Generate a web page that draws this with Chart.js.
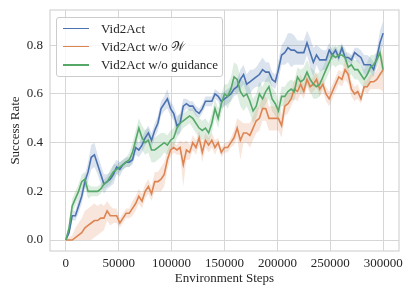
<!DOCTYPE html>
<html><head><meta charset="utf-8">
<script src="https://cdn.jsdelivr.net/npm/chart.js@4/dist/chart.umd.min.js"></script>
<style>
html,body{margin:0;padding:0;background:#fff;}
#wrap{position:relative;width:415px;height:297px;}
#legend{position:absolute;left:56px;top:17px;width:167px;height:60px;box-sizing:border-box;border:1px solid #cccccc;border-radius:3px;background:rgba(255,255,255,0.8);font-family:'Liberation Serif','Times New Roman',serif;font-size:13px;color:#262626;}
.row{position:absolute;left:0;height:18px;width:100%;}
.sw{position:absolute;left:6px;top:8px;width:26px;height:1.6px;}
.tx{position:absolute;left:44px;top:0;line-height:18px;white-space:nowrap;}
</style>
</head><body>
<div id="wrap"><canvas id="c" width="415" height="297"></canvas><div id="legend"></div></div>
<script>
const seriesNames = ['Vid2Act', 'Vid2Act w/o \u{1D4B2}', 'Vid2Act w/o guidance'];
const seriesColors = ['#4C72B0', '#DD8452', '#55A868'];
const xTicks = [0, 50000, 100000, 150000, 200000, 250000, 300000];
const yTicks = [0.0, 0.2, 0.4, 0.6, 0.8];
const steps = [0,3000,6000,9000,12000,15000,18000,21000,24000,27000,30000,33000,36000,39000,42000,45000,48000,51000,54000,57000,60000,63000,66000,69000,72000,75000,78000,81000,84000,87000,90000,93000,96000,99000,102000,105000,108000,111000,114000,117000,120000,123000,126000,129000,132000,135000,138000,141000,144000,147000,150000,153000,156000,159000,162000,165000,168000,171000,174000,177000,180000,183000,186000,189000,192000,195000,198000,201000,204000,207000,210000,213000,216000,219000,222000,225000,228000,231000,234000,237000,240000,243000,246000,249000,252000,255000,258000,261000,264000,267000,270000,273000,276000,279000,282000,285000,288000,291000,294000,297000,300000];

const vid2act = [0.00,0.03,0.10,0.10,0.14,0.18,0.24,0.28,0.34,0.35,0.31,0.27,0.23,0.24,0.25,0.27,0.30,0.29,0.31,0.32,0.32,0.33,0.38,0.37,0.39,0.42,0.44,0.41,0.45,0.48,0.54,0.56,0.58,0.54,0.52,0.47,0.48,0.55,0.56,0.55,0.55,0.53,0.52,0.54,0.57,0.57,0.57,0.60,0.59,0.57,0.58,0.59,0.60,0.62,0.63,0.66,0.68,0.64,0.65,0.66,0.67,0.68,0.70,0.69,0.69,0.66,0.65,0.70,0.76,0.77,0.79,0.78,0.78,0.77,0.77,0.77,0.81,0.77,0.73,0.76,0.74,0.74,0.74,0.78,0.76,0.78,0.75,0.79,0.75,0.75,0.74,0.77,0.76,0.75,0.72,0.72,0.72,0.70,0.75,0.81,0.85];
const vid2actSpread = [0,0.01,0.02,0.02,0.03,0.03,0.03,0.04,0.05,0.05,0.04,0.04,0.04,0.03,0.03,0.04,0.03,0.03,0.02,0.02,0.02,0.02,0.03,0.03,0.03,0.03,0.03,0.03,0.03,0.03,0.03,0.03,0.04,0.03,0.03,0.04,0.04,0.03,0.02,0.02,0.02,0.02,0.02,0.02,0.02,0.02,0.02,0.02,0.02,0.03,0.03,0.03,0.03,0.03,0.03,0.04,0.04,0.04,0.05,0.04,0.04,0.05,0.05,0.04,0.04,0.03,0.03,0.04,0.04,0.05,0.06,0.07,0.06,0.05,0.05,0.05,0.05,0.06,0.06,0.04,0.05,0.04,0.04,0.03,0.02,0.02,0.02,0.02,0.02,0.02,0.02,0.02,0.03,0.03,0.04,0.04,0.03,0.03,0.03,0.05,0.05];

const noW = [0.00,0.00,0.00,0.01,0.02,0.03,0.05,0.06,0.07,0.08,0.08,0.09,0.09,0.12,0.10,0.10,0.10,0.07,0.09,0.11,0.11,0.13,0.15,0.18,0.16,0.20,0.22,0.19,0.24,0.24,0.25,0.27,0.33,0.37,0.38,0.37,0.38,0.31,0.37,0.36,0.40,0.38,0.42,0.36,0.41,0.39,0.41,0.38,0.40,0.36,0.38,0.38,0.40,0.42,0.46,0.41,0.44,0.44,0.43,0.46,0.49,0.50,0.54,0.54,0.50,0.50,0.50,0.50,0.47,0.55,0.56,0.58,0.62,0.61,0.64,0.61,0.66,0.63,0.64,0.66,0.62,0.64,0.60,0.58,0.61,0.64,0.67,0.66,0.70,0.68,0.62,0.60,0.61,0.58,0.63,0.63,0.65,0.65,0.66,0.68,0.70];
const noWSpread = [0,0.01,0.02,0.04,0.05,0.06,0.07,0.07,0.07,0.07,0.06,0.06,0.05,0.04,0.04,0.03,0.03,0.02,0.02,0.02,0.02,0.03,0.03,0.03,0.03,0.03,0.03,0.03,0.04,0.04,0.05,0.05,0.04,0.03,0.02,0.02,0.03,0.09,0.04,0.03,0.03,0.03,0.03,0.04,0.03,0.03,0.03,0.03,0.02,0.02,0.02,0.02,0.02,0.03,0.04,0.08,0.04,0.04,0.05,0.05,0.05,0.05,0.05,0.05,0.05,0.05,0.05,0.05,0.05,0.04,0.04,0.03,0.04,0.04,0.04,0.03,0.03,0.03,0.03,0.03,0.03,0.03,0.03,0.03,0.03,0.03,0.03,0.03,0.04,0.04,0.03,0.03,0.03,0.02,0.02,0.03,0.03,0.03,0.04,0.06,0.09];

const noGuidance = [0.00,0.05,0.14,0.17,0.20,0.24,0.25,0.20,0.20,0.20,0.20,0.21,0.23,0.24,0.26,0.28,0.29,0.30,0.31,0.32,0.33,0.36,0.41,0.46,0.42,0.40,0.41,0.37,0.37,0.38,0.39,0.40,0.39,0.41,0.42,0.46,0.48,0.49,0.50,0.51,0.50,0.48,0.46,0.45,0.46,0.44,0.48,0.54,0.50,0.56,0.60,0.59,0.62,0.67,0.66,0.61,0.59,0.60,0.57,0.53,0.55,0.60,0.58,0.61,0.63,0.58,0.56,0.53,0.59,0.59,0.61,0.62,0.61,0.67,0.65,0.66,0.69,0.66,0.64,0.63,0.64,0.67,0.70,0.73,0.76,0.75,0.76,0.76,0.75,0.71,0.72,0.70,0.70,0.68,0.66,0.68,0.71,0.72,0.74,0.77,0.70];
const noGuidanceSpread = [0,0.02,0.03,0.03,0.03,0.03,0.03,0.03,0.02,0.02,0.02,0.02,0.02,0.02,0.03,0.03,0.02,0.02,0.02,0.02,0.03,0.04,0.04,0.04,0.05,0.05,0.05,0.05,0.05,0.05,0.05,0.04,0.04,0.04,0.04,0.04,0.04,0.03,0.03,0.03,0.04,0.04,0.04,0.04,0.04,0.04,0.04,0.04,0.04,0.04,0.04,0.05,0.05,0.06,0.06,0.06,0.06,0.05,0.05,0.05,0.05,0.05,0.05,0.05,0.05,0.05,0.05,0.04,0.04,0.04,0.04,0.04,0.04,0.04,0.05,0.05,0.05,0.05,0.06,0.05,0.05,0.04,0.04,0.04,0.04,0.04,0.04,0.04,0.04,0.04,0.04,0.04,0.04,0.04,0.04,0.05,0.05,0.04,0.03,0.03,0.04];

const means = [vid2act, noW, noGuidance];
const spreads = [vid2actSpread, noWSpread, noGuidanceSpread];

function rgba(hex, a){const n=parseInt(hex.slice(1),16);return `rgba(${n>>16&255},${n>>8&255},${n&255},${a})`;}

const datasets = [];
means.forEach((m, s) => {
  const sp = spreads[s];
  datasets.push({label: seriesNames[s]+' hi', data: steps.map((x,i)=>({x, y: m[i]+sp[i]})), borderWidth:0, pointRadius:0, fill:false, order:20+s});
  datasets.push({label: seriesNames[s]+' lo', data: steps.map((x,i)=>({x, y: Math.max(0, m[i]-sp[i])})), borderWidth:0, pointRadius:0, fill:'-1', backgroundColor: rgba(seriesColors[s],0.2), order:20+s});
});
means.forEach((m, s) => {
  datasets.push({label: seriesNames[s], data: steps.map((x,i)=>({x, y: m[i]})), borderColor: seriesColors[s], borderWidth:1.6, pointRadius:0, fill:false, tension:0, order: 2-s});
});

const font = {family:"'Liberation Serif','Times New Roman',serif", size:13};
const txtColor = '#262626';
const gridColor = '#d6d6d6';

const frame = {id:'frame', beforeDatasetsDraw(chart){const {ctx, chartArea:a}=chart;ctx.save();ctx.strokeStyle=gridColor;ctx.lineWidth=1.25;ctx.strokeRect(a.left,a.top,a.right-a.left,a.bottom-a.top);ctx.restore();}};

new Chart(document.getElementById('c'), {
  type:'line',
  data:{datasets},
  plugins:[frame],
  options:{
    responsive:false, animation:false,
    layout:{padding:{top:10,right:16,left:0,bottom:0}},
    plugins:{legend:{display:false}, tooltip:{enabled:false}},
    scales:{
      x:{type:'linear', min:-15000, max:315000,
        afterBuildTicks:s=>{s.ticks = xTicks.map(v=>({value:v}));},
        afterFit:s=>{s.height=46; s.paddingLeft=0; s.paddingRight=0;},
        ticks:{callback:v=>String(v), padding:5, font, color:txtColor, maxRotation:0, autoSkip:false},
        grid:{color:gridColor, lineWidth:1, drawTicks:false},
        border:{display:false},
        title:{display:true, text:'Environment Steps', font, color:txtColor, padding:{top:0,bottom:11}}},
      y:{type:'linear', min:-0.045, max:0.945,
        afterBuildTicks:s=>{s.ticks = yTicks.map(v=>({value:v}));},
        afterFit:s=>{s.width=50; s.paddingTop=0; s.paddingBottom=0;},
        ticks:{callback:v=>Number(v).toFixed(1), padding:7, font, color:txtColor, autoSkip:false},
        grid:{color:gridColor, lineWidth:1, drawTicks:false},
        border:{display:false},
        title:{display:true, text:'Success Rate', font, color:txtColor, padding:{top:8,bottom:0}}}
    }
  }
});

const lg = document.getElementById('legend');
const rowTops = [1.7, 19.7, 38.3];
seriesNames.forEach((n, s) => {
  const r = document.createElement('div'); r.className='row'; r.style.top = rowTops[s]+'px';
  const sw = document.createElement('div'); sw.className='sw'; sw.style.background = seriesColors[s];
  const t = document.createElement('div'); t.className='tx'; t.textContent = n;
  r.appendChild(sw); r.appendChild(t); lg.appendChild(r);
});
</script>
</body></html>
